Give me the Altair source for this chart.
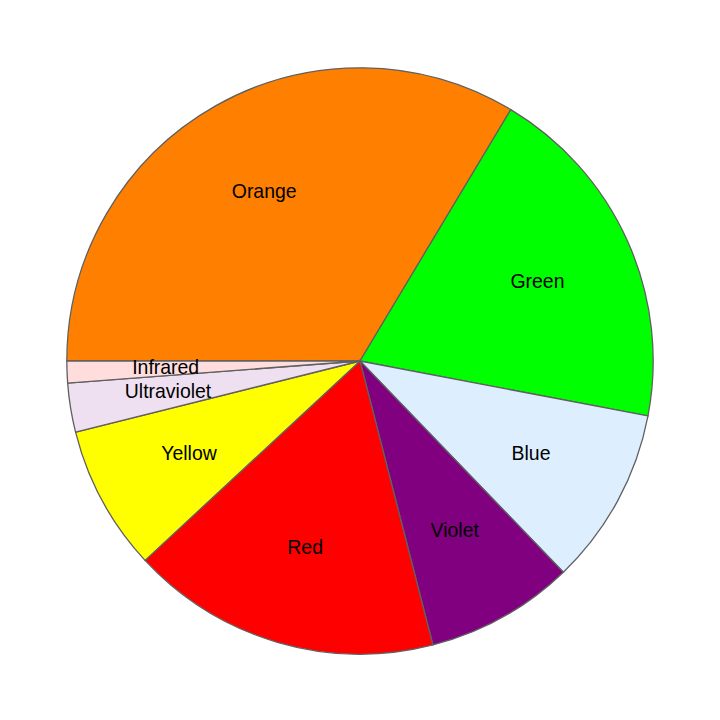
import altair as alt
import pandas as pd
import math

names = ["Orange", "Green", "Blue", "Violet", "Red", "Yellow", "Ultraviolet", "Infrared"]
values = [33.6, 19.4, 9.8, 8.2, 17.1, 8.0, 2.7, 1.2]
colors = ["#ff8000", "#00ff00", "#ddeeff", "#800080", "#ff0000", "#ffff00", "#eee0f0", "#ffdddd"]

df = pd.DataFrame({"name": names, "value": values, "idx": list(range(len(names)))})

start = 1.5 * math.pi
theta_scale = alt.Scale(range=[start, start + 2 * math.pi])

base = alt.Chart(df).encode(
    theta=alt.Theta("value:Q", stack=True, scale=theta_scale),
    order=alt.Order("idx:Q", sort="ascending"),
)

arcs = base.mark_arc(outerRadius=294, stroke="#606060", strokeWidth=1.3).encode(
    color=alt.Color("name:N", scale=alt.Scale(domain=names, range=colors), legend=None)
)

labels = base.mark_text(radius=195, fontSize=19.5, font="Liberation Sans", color="black").encode(
    text="name:N"
)

chart = (arcs + labels).properties(
    width=722, height=722, padding=0, autosize=alt.AutoSizeParams(type="none")
).configure_view(stroke=None)

chart.save("out.html", embed_options={"renderer": "svg", "actions": False})
